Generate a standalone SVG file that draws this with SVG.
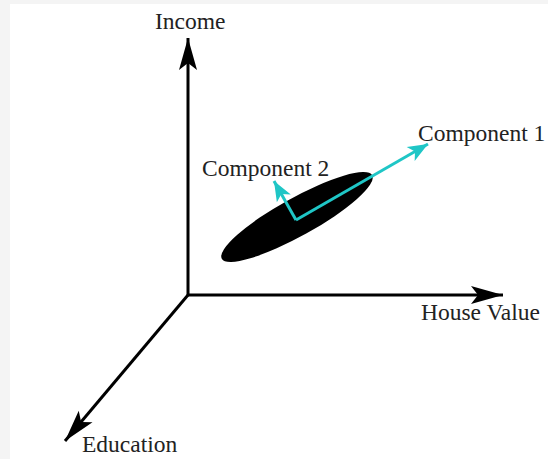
<svg xmlns="http://www.w3.org/2000/svg" width="548" height="459" viewBox="0 0 548 459">
<defs>
<style>
.lbl{font-family:"Liberation Serif","Times New Roman",serif;font-size:23.5px;fill:#222}
.axis{stroke:#000;stroke-width:3;fill:none}
.pc{stroke:#1fc6c6;stroke-width:3;fill:none}
</style>
<marker id="ah" markerUnits="userSpaceOnUse" markerWidth="40" markerHeight="22" viewBox="-34 -11 36 22" refX="0" refY="0" orient="auto">
<path d="M0,0 L-32,-9 L-25,0 L-32,9 Z" fill="#000"/>
</marker>
<marker id="ch" markerUnits="userSpaceOnUse" markerWidth="24" markerHeight="18" viewBox="-22 -9 23 18" refX="0" refY="0" orient="auto">
<path d="M0,0 L-20,-8 L-15,0 L-20,8 Z" fill="#1fc6c6"/>
</marker>
</defs>
<rect x="0" y="0" width="548" height="459" fill="#f4f4f4"/>
<rect x="10" y="4" width="538" height="455" fill="#fff"/>
<g id="cloud">
<ellipse cx="297" cy="217" rx="86" ry="19" transform="rotate(-29 297 217)" fill="#000"/>
</g>
<g id="connectors">
<path class="axis" d="M188,295 V38" marker-end="url(#ah)"/>
<path class="axis" d="M187,295 H503" marker-end="url(#ah)"/>
<path class="axis" d="M188,295 L65,441" marker-end="url(#ah)"/>
<path class="pc" d="M296,220 L428,144" marker-end="url(#ch)"/>
<path class="pc" d="M296,220 L274,181" marker-end="url(#ch)"/>
</g>
<g id="income"><text class="lbl" x="155" y="29">Income</text></g>
<g id="house-value"><text class="lbl" x="421" y="320">House Value</text></g>
<g id="education"><text class="lbl" x="82" y="452">Education</text></g>
<g id="component-1"><text class="lbl" x="418" y="141">Component 1</text></g>
<g id="component-2"><text class="lbl" x="202" y="176">Component 2</text></g>
</svg>
